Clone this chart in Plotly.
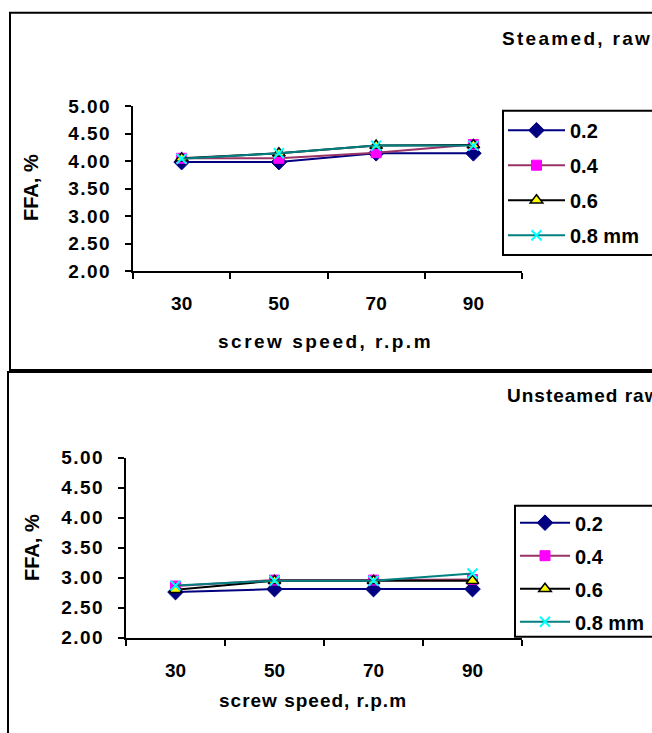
import plotly.graph_objects as go

# Screw speed categories and sieve sizes
speeds = ["30", "50", "70", "90"]
sizes = ["0.2", "0.4", "0.6", "0.8 mm"]

# FFA (%) for steamed raw material, one list per sieve size
steamed_02 = [3.98, 3.98, 4.14, 4.14]
steamed_04 = [4.05, 4.05, 4.15, 4.30]
steamed_06 = [4.05, 4.14, 4.28, 4.29]
steamed_08 = [4.04, 4.14, 4.28, 4.28]

# FFA (%) for unsteamed raw material
unsteamed_02 = [2.76, 2.81, 2.81, 2.81]
unsteamed_04 = [2.86, 2.96, 2.96, 2.97]
unsteamed_06 = [2.80, 2.95, 2.95, 2.95]
unsteamed_08 = [2.87, 2.95, 2.95, 3.07]

y_ticks = [2.0, 2.5, 3.0, 3.5, 4.0, 4.5, 5.0]
y_tick_labels = ["2.00", "2.50", "3.00", "3.50", "4.00", "4.50", "5.00"]

W, H = 652, 733
FONT = "Liberation Sans, Arial, sans-serif"


def fx(px):
    return px / W


def fy(py):
    return 1 - py / H


def spaced(text, ls):
    return f'<span style="letter-spacing:{ls}px">{text}</span>'


series_styles = [
    dict(line=dict(color="#000080", width=2),
         marker=dict(symbol="diamond", size=12, color="#000080",
                     line=dict(color="#000080", width=1))),
    dict(line=dict(color="#993366", width=2),
         marker=dict(symbol="square", size=10, color="#FF00FF",
                     line=dict(color="#FF00FF", width=1))),
    dict(line=dict(color="#000000", width=2),
         marker=dict(symbol="triangle-up", size=11, color="#FFFF00",
                     line=dict(color="#000000", width=1.5))),
    dict(line=dict(color="#008080", width=2),
         marker=dict(symbol="x-thin", size=10, color="#00FFFF",
                     line=dict(color="#00FFFF", width=2))),
]

fig = go.Figure()

panels = [
    ("x", "y", "legend", [steamed_02, steamed_04, steamed_06, steamed_08]),
    ("x2", "y2", "legend2", [unsteamed_02, unsteamed_04, unsteamed_06, unsteamed_08]),
]
for xa, ya, lg, series in panels:
    for i, (name, vals) in enumerate(zip(sizes, series)):
        fig.add_trace(go.Scatter(
            x=speeds, y=vals, name=name, mode="lines+markers",
            xaxis=xa, yaxis=ya, legend=lg, legendgroup=f"{lg}-{i}",
            **series_styles[i],
        ))

tick_font = dict(family=FONT, size=19, color="black", weight="bold")
xcommon = dict(type="category", range=[-0.5, 3.5], tickson="boundaries",
               ticks="outside", ticklen=6, tickwidth=1.5, tickcolor="black",
               showline=True, linecolor="black", linewidth=2,
               showgrid=False, zeroline=False, tickfont=tick_font,
               fixedrange=True)
ycommon = dict(range=[2, 5], tickvals=y_ticks,
               ticktext=[spaced(t, 1.5) for t in y_tick_labels],
               ticks="outside", ticklen=6, tickwidth=1.5, tickcolor="black",
               showline=True, linecolor="black", linewidth=2,
               showgrid=False, zeroline=False, tickfont=tick_font,
               ticklabelstandoff=10, fixedrange=True)

legend_common = dict(
    xanchor="left", yanchor="top", bgcolor="rgba(0,0,0,0)", borderwidth=0,
    font=dict(family=FONT, size=20, color="black", weight="bold"),
)

fig.update_layout(
    width=W, height=H,
    margin=dict(l=0, r=0, t=0, b=0, autoexpand=False),
    paper_bgcolor="white", plot_bgcolor="white",
    xaxis=dict(domain=[fx(133), fx(522)], anchor="y", ticklabelstandoff=14, **xcommon),
    yaxis=dict(domain=[fy(271), fy(106)], anchor="x", **ycommon),
    xaxis2=dict(domain=[fx(126), fx(522)], anchor="y2", ticklabelstandoff=14, **xcommon),
    yaxis2=dict(domain=[fy(637.7), fy(457.7)], anchor="x2", **ycommon),
    legend=dict(x=fx(503), y=fy(110.7), itemwidth=57, tracegroupgap=6, **legend_common),
    legend2=dict(x=fx(515), y=fy(503.2), itemwidth=50, tracegroupgap=4, **legend_common),
    showlegend=True,
)

line_black = dict(color="black", width=2)
# panel frames and legend boxes
fig.add_shape(type="rect", xref="paper", yref="paper",
              x0=fx(10), x1=fx(700), y0=fy(370), y1=fy(12.7),
              line=line_black, layer="below")
fig.add_shape(type="rect", xref="paper", yref="paper",
              x0=fx(8), x1=fx(700), y0=fy(760), y1=fy(372),
              line=line_black, layer="below")
fig.add_shape(type="rect", xref="paper", yref="paper",
              x0=fx(503), x1=fx(700), y0=fy(255), y1=fy(110.7),
              line=line_black, fillcolor="white", layer="above")
fig.add_shape(type="rect", xref="paper", yref="paper",
              x0=fx(515), x1=fx(700), y0=fy(636.7), y1=fy(505.7),
              line=line_black, fillcolor="white", layer="above")

ann_font = dict(family=FONT, size=19, color="black", weight="bold")
annotations = [
    dict(text=spaced("Steamed, raw", 2.3), x=fx(500), y=fy(39),
         xanchor="left", yanchor="middle"),
    dict(text=spaced("Unsteamed raw", 1), x=fx(505), y=fy(395),
         xanchor="left", yanchor="middle"),
    dict(text=spaced("screw speed, r.p.m", 2.5), x=fx(325), y=fy(341.7),
         xanchor="center", yanchor="middle"),
    dict(text=spaced("screw speed, r.p.m", 1), x=fx(313), y=fy(700),
         xanchor="center", yanchor="middle"),
    dict(text="FFA, %", x=fx(31), y=fy(188), textangle=-90,
         xanchor="center", yanchor="middle", font=dict(family=FONT, size=20, color="black", weight="bold")),
    dict(text="FFA, %", x=fx(32), y=fy(548), textangle=-90,
         xanchor="center", yanchor="middle", font=dict(family=FONT, size=20, color="black", weight="bold")),
]
for a in annotations:
    a.setdefault("font", ann_font)
    fig.add_annotation(xref="paper", yref="paper", showarrow=False, **a)

fig.write_html("out.html")
